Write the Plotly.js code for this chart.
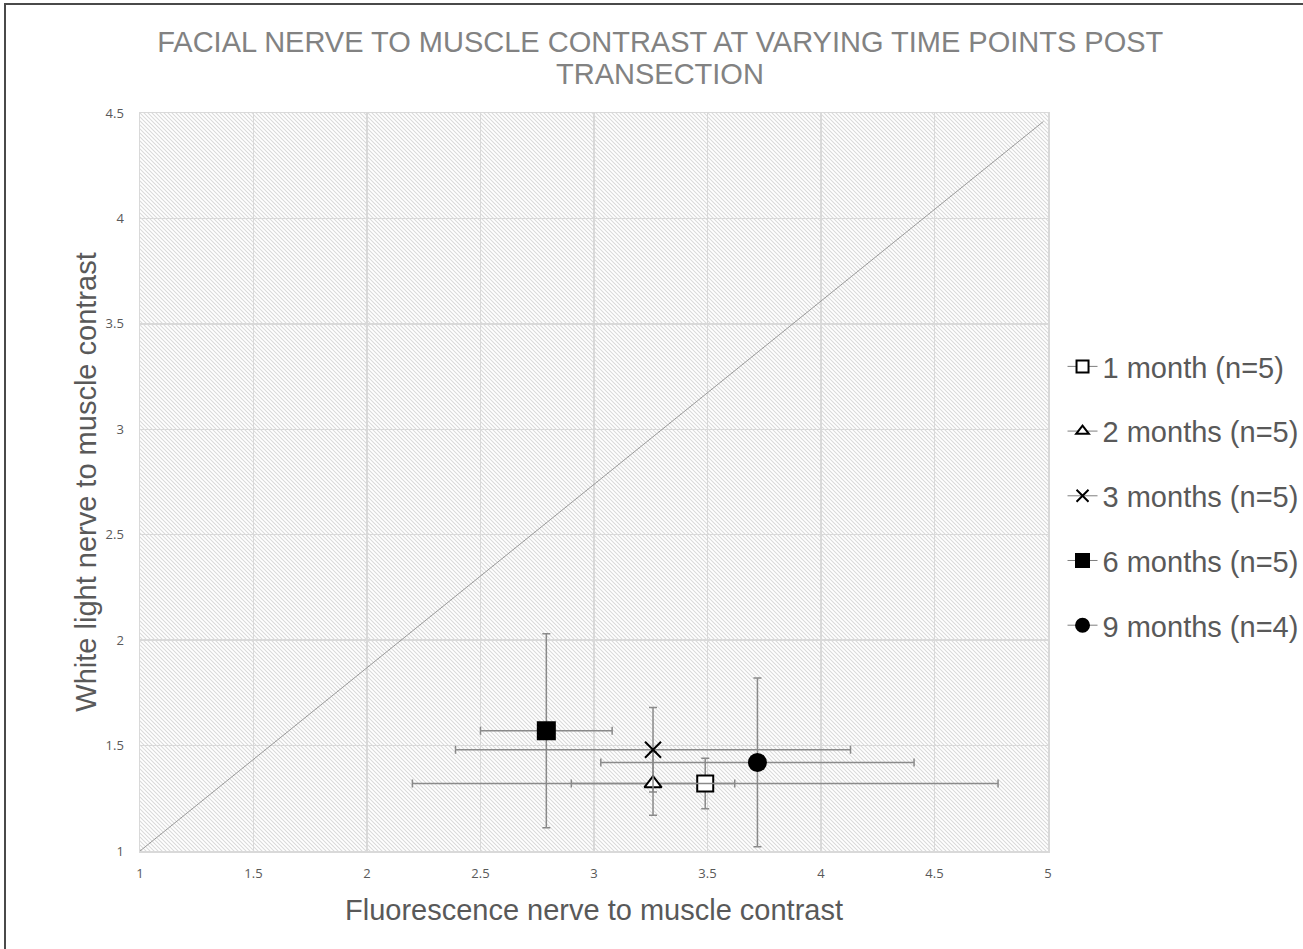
<!DOCTYPE html>
<html>
<head>
<meta charset="utf-8">
<script src="https://cdn.plot.ly/plotly-3.0.1.min.js"></script>
<style>
  html, body { margin: 0; padding: 0; background: #fff; }
  #chart { width: 1303px; height: 949px; position: absolute; left: 0; top: 0; }
  #frame { position: absolute; left: 4px; top: 3px; width: 1400px; height: 1100px;
           border-left: 2px solid #4a4a4a; border-top: 2px solid #4a4a4a; pointer-events: none; }
</style>
</head>
<body>
<div id="chart"></div>
<div id="frame"></div>
<script>
// ---- data ----
const seriesNames = ['1 month (n=5)', '2 months (n=5)', '3 months (n=5)', '6 months (n=5)', '9 months (n=4)'];
const fluorescence = [3.49, 3.26, 3.26, 2.79, 3.72];     // x means
const whiteLight   = [1.32, 1.32, 1.48, 1.57, 1.42];     // y means
const fluorErr     = [1.29, 0.36, 0.87, 0.29, 0.69];     // x error (±)
const whiteErr     = [0.12, 0.15, 0.20, 0.46, 0.40];     // y error (±)
const identityX    = [1, 4.98];
const identityY    = [1, 4.46];
const tickVals     = [1, 1.5, 2, 2.5, 3, 3.5, 4, 4.5, 5];
const tickText     = ['1', '1.5', '2', '2.5', '3', '3.5', '4', '4.5', '5'];
const titleLine1   = 'FACIAL NERVE TO MUSCLE CONTRAST AT VARYING TIME POINTS POST';
const titleLine2   = 'TRANSECTION';

// ---- styles ----
const symbols   = ['square', 'triangle-up', 'x-thin', 'square', 'circle'];
const sizes     = [16, 15, 16, 17, 17];
const legSizes  = [12, 11, 12, 13, 13];
const fills     = ['#ffffff', '#ffffff', '#000000', '#000000', '#000000'];
const errColor  = '#8a8a8a';
const FONT = 'Liberation Sans, Arial, sans-serif';

const traces = [{
  x: identityX, y: identityY, mode: 'lines', type: 'scatter',
  line: { color: '#9a9a9a', width: 1 }, showlegend: false, hoverinfo: 'skip'
}];

seriesNames.forEach((name, i) => {
  traces.push({
    type: 'scatter', mode: 'markers', name: name, showlegend: false,
    x: [fluorescence[i]], y: [whiteLight[i]],
    marker: { symbol: symbols[i], size: sizes[i], color: fills[i], line: { color: '#000', width: 2 } },
    error_x: { type: 'data', array: [fluorErr[i]], visible: true, color: errColor, thickness: 1.5, width: 4 },
    error_y: { type: 'data', array: [whiteErr[i]], visible: true, color: errColor, thickness: 1.5, width: 4 }
  });
});
// legend entries (Excel-style: short line with marker)
seriesNames.forEach((name, i) => {
  traces.push({
    type: 'scatter', mode: 'lines+markers', name: name, legendgroup: 'g' + i,
    x: [null], y: [null],
    line: { color: '#7f7f7f', width: 1 },
    marker: { symbol: symbols[i], size: legSizes[i], color: fills[i], line: { color: '#000', width: 2 } }
  });
});

const W = 908, H = 738;
const svg = "<svg xmlns='http://www.w3.org/2000/svg' width='" + W + "' height='" + H + "'>" +
  "<defs><pattern id='p' width='4' height='4' patternUnits='userSpaceOnUse'>" +
  "<path d='M-1,3 l2,2 M0,0 l4,4 M3,-1 l2,2' stroke='#dadada' stroke-width='1.1'/></pattern></defs>" +
  "<rect width='100%' height='100%' fill='#fff'/><rect width='100%' height='100%' fill='url(#p)'/></svg>";
const bgImg = 'data:image/svg+xml;base64,' + btoa(svg);

const axisCommon = {
  range: [1, 5], tickvals: tickVals, ticktext: tickText,
  showgrid: true, gridcolor: '#d9d9d9', gridwidth: 1.5,
  zeroline: false, showline: true, mirror: true, linecolor: '#d9d9d9', linewidth: 1.5,
  ticks: '', tickfont: { family: 'Open Sans, sans-serif', size: 13, color: '#595959' }
};

const layout = {
  width: 1303, height: 949,
  margin: { l: 140, r: 255, t: 113, b: 98, autoexpand: false },
  paper_bgcolor: '#ffffff', plot_bgcolor: '#ffffff',
  title: {
    text: titleLine1,
    font: { family: FONT, size: 29, color: '#828282' },
    x: 0.573, xanchor: 'center', xref: 'paper', y: 0.9557, yref: 'container', yanchor: 'middle'
  },
  annotations: [{
    text: titleLine2, showarrow: false, xref: 'paper', yref: 'paper',
    x: 0.573, xanchor: 'center', y: 1.0528, yanchor: 'middle',
    font: { family: FONT, size: 29, color: '#828282' }
  }],
  xaxis: Object.assign({}, axisCommon, {
    ticklabelstandoff: 10,
    title: { text: 'Fluorescence nerve to muscle contrast', standoff: 18,
             font: { family: FONT, size: 29, color: '#595959' } }
  }),
  yaxis: Object.assign({}, axisCommon, {
    range: [1, 4.5], tickvals: tickVals.slice(0, 8), ticktext: tickText.slice(0, 8),
    ticklabelstandoff: 12,
    title: { text: 'White light nerve to muscle contrast', standoff: 0,
             font: { family: FONT, size: 29, color: '#595959' } }
  }),
  legend: {
    x: 1.016, xanchor: 'left', y: 0.691, yanchor: 'top',
    font: { family: FONT, size: 29, color: '#595959' },
    traceorder: 'grouped', tracegroupgap: 24, itemwidth: 30,
    bgcolor: 'rgba(0,0,0,0)'
  },
  images: [{ source: bgImg, xref: 'paper', yref: 'paper', x: 0, y: 1, sizex: 1, sizey: 1,
             sizing: 'stretch', xanchor: 'left', yanchor: 'top', layer: 'below' }],
  showlegend: true
};

Plotly.newPlot('chart', traces, layout, { displayModeBar: false, staticPlot: true });
</script>
</body>
</html>
